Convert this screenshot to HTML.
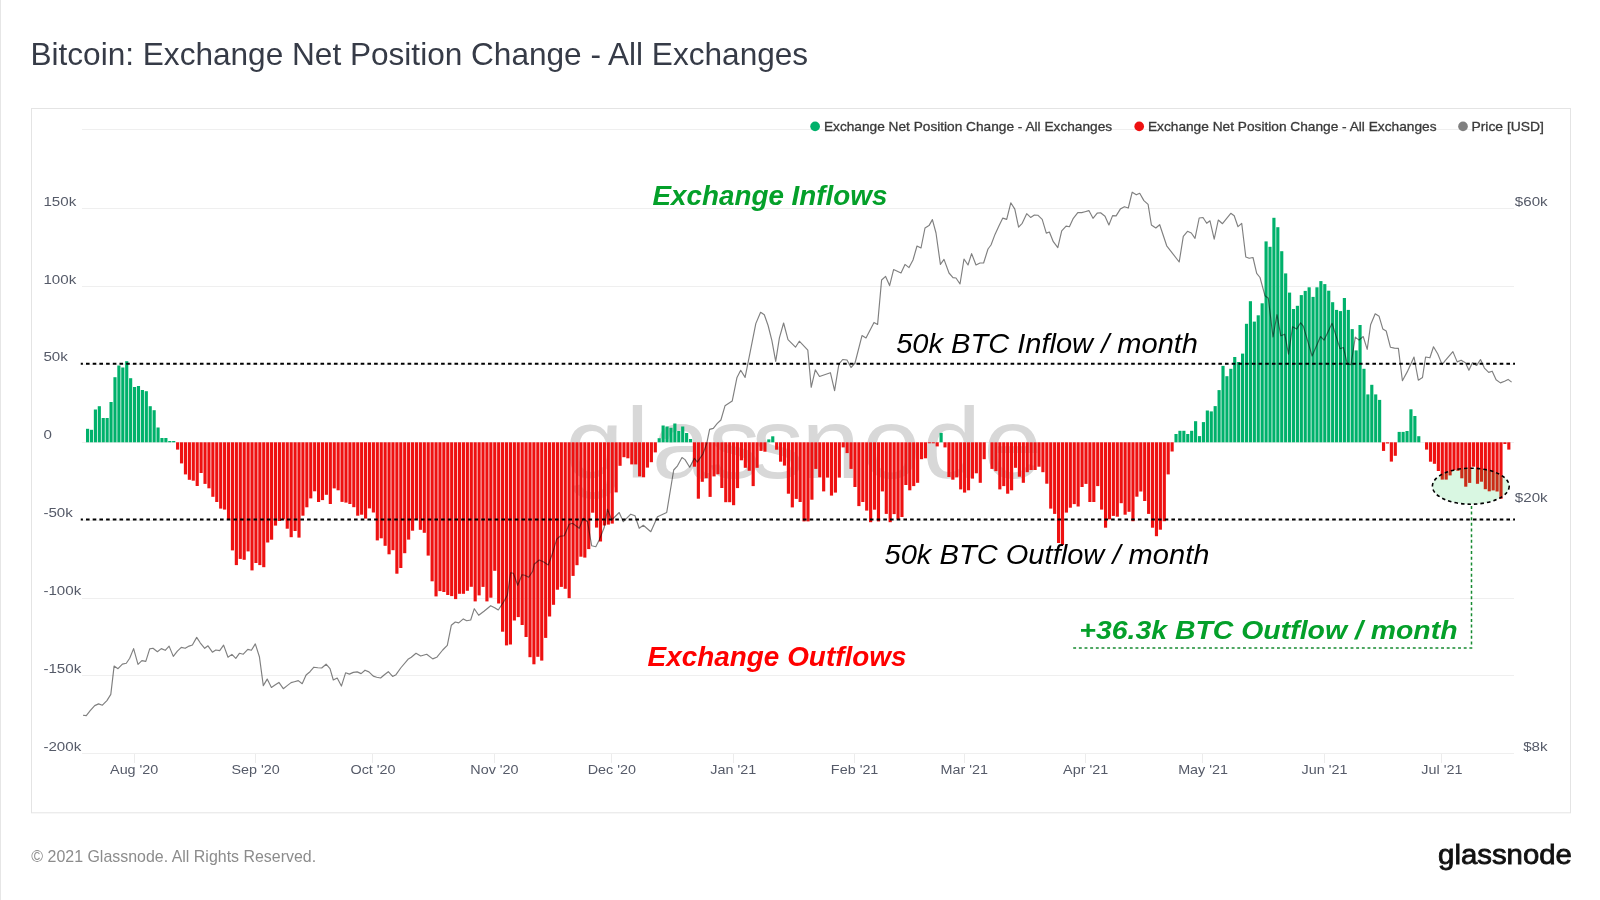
<!DOCTYPE html>
<html><head><meta charset="utf-8"><title>Bitcoin: Exchange Net Position Change - All Exchanges</title>
<style>
html,body{margin:0;padding:0;background:#fff;width:1600px;height:900px;overflow:hidden}
#edge{position:absolute;left:0;top:0;width:1px;height:900px;background:#e6e6e6}
svg{position:absolute;left:0;top:0;display:block;will-change:transform}
</style></head><body>
<svg width="1600" height="900" viewBox="0 0 1600 900"><rect x="31.5" y="108.5" width="1539" height="704.3" fill="#fff" stroke="#e4e4e4" stroke-width="1"/><line x1="82" y1="129.5" x2="1514" y2="129.5" stroke="#efefef" stroke-width="1"/><line x1="82" y1="208.5" x2="1514" y2="208.5" stroke="#efefef" stroke-width="1"/><line x1="82" y1="286.5" x2="1514" y2="286.5" stroke="#efefef" stroke-width="1"/><line x1="82" y1="364.5" x2="1514" y2="364.5" stroke="#efefef" stroke-width="1"/><line x1="82" y1="442.5" x2="1514" y2="442.5" stroke="#efefef" stroke-width="1"/><line x1="82" y1="520.5" x2="1514" y2="520.5" stroke="#efefef" stroke-width="1"/><line x1="82" y1="598.5" x2="1514" y2="598.5" stroke="#efefef" stroke-width="1"/><line x1="82" y1="675.5" x2="1514" y2="675.5" stroke="#efefef" stroke-width="1"/><line x1="82" y1="753.5" x2="1514" y2="753.5" stroke="#efefef" stroke-width="1"/><line x1="134.5" y1="754" x2="134.5" y2="763" stroke="#ececec" stroke-width="1"/><line x1="255.5" y1="754" x2="255.5" y2="763" stroke="#ececec" stroke-width="1"/><line x1="372.5" y1="754" x2="372.5" y2="763" stroke="#ececec" stroke-width="1"/><line x1="494.5" y1="754" x2="494.5" y2="763" stroke="#ececec" stroke-width="1"/><line x1="611.5" y1="754" x2="611.5" y2="763" stroke="#ececec" stroke-width="1"/><line x1="733.5" y1="754" x2="733.5" y2="763" stroke="#ececec" stroke-width="1"/><line x1="854.5" y1="754" x2="854.5" y2="763" stroke="#ececec" stroke-width="1"/><line x1="964.5" y1="754" x2="964.5" y2="763" stroke="#ececec" stroke-width="1"/><line x1="1085.5" y1="754" x2="1085.5" y2="763" stroke="#ececec" stroke-width="1"/><line x1="1202.5" y1="754" x2="1202.5" y2="763" stroke="#ececec" stroke-width="1"/><line x1="1324.5" y1="754" x2="1324.5" y2="763" stroke="#ececec" stroke-width="1"/><line x1="1441.5" y1="754" x2="1441.5" y2="763" stroke="#ececec" stroke-width="1"/><text transform="translate(0 477.5) scale(1.05 1)" x="538.06 595.90 620.88 674.30 715.73 763.28 820.87 878.54 936.59" y="0" font-family="Liberation Sans, Arial, sans-serif" font-size="100" fill="#d8d8d8">glassnode</text><g fill="#00b16b"><rect x="86.00" y="428.8" width="3.15" height="13.5"/><rect x="89.92" y="429.8" width="3.15" height="12.5"/><rect x="93.83" y="409.5" width="3.15" height="32.8"/><rect x="97.75" y="406.2" width="3.15" height="36.1"/><rect x="101.66" y="418.0" width="3.15" height="24.3"/><rect x="105.58" y="418.0" width="3.15" height="24.3"/><rect x="109.49" y="402.0" width="3.15" height="40.3"/><rect x="113.41" y="377.2" width="3.15" height="65.1"/><rect x="117.32" y="365.5" width="3.15" height="76.8"/><rect x="121.24" y="367.5" width="3.15" height="74.8"/><rect x="125.15" y="361.2" width="3.15" height="81.1"/><rect x="129.07" y="378.2" width="3.15" height="64.1"/><rect x="132.98" y="387.0" width="3.15" height="55.3"/><rect x="136.90" y="386.0" width="3.15" height="56.3"/><rect x="140.81" y="390.0" width="3.15" height="52.3"/><rect x="144.73" y="391.2" width="3.15" height="51.1"/><rect x="148.64" y="406.2" width="3.15" height="36.1"/><rect x="152.56" y="410.2" width="3.15" height="32.1"/><rect x="156.48" y="427.5" width="3.15" height="14.8"/><rect x="160.39" y="438.0" width="3.15" height="4.3"/><rect x="164.31" y="438.0" width="3.15" height="4.3"/><rect x="168.22" y="441.0" width="3.15" height="1.3"/><rect x="172.14" y="441.0" width="3.15" height="1.3"/><rect x="657.63" y="438.2" width="3.15" height="4.1"/><rect x="661.55" y="425.5" width="3.15" height="16.8"/><rect x="665.46" y="426.5" width="3.15" height="15.8"/><rect x="669.38" y="427.8" width="3.15" height="14.6"/><rect x="673.29" y="423.5" width="3.15" height="18.8"/><rect x="677.21" y="431.0" width="3.15" height="11.3"/><rect x="681.13" y="426.5" width="3.15" height="15.8"/><rect x="685.04" y="433.0" width="3.15" height="9.3"/><rect x="688.96" y="439.0" width="3.15" height="3.3"/><rect x="767.26" y="439.4" width="3.15" height="2.9"/><rect x="771.18" y="436.3" width="3.15" height="6.0"/><rect x="939.54" y="432.9" width="3.15" height="9.4"/><rect x="1174.45" y="434.0" width="3.15" height="8.3"/><rect x="1178.37" y="430.8" width="3.15" height="11.5"/><rect x="1182.28" y="430.8" width="3.15" height="11.5"/><rect x="1186.20" y="434.0" width="3.15" height="8.3"/><rect x="1190.11" y="430.8" width="3.15" height="11.5"/><rect x="1194.03" y="421.2" width="3.15" height="21.1"/><rect x="1197.95" y="436.1" width="3.15" height="6.2"/><rect x="1201.86" y="422.1" width="3.15" height="20.2"/><rect x="1205.78" y="410.5" width="3.15" height="31.8"/><rect x="1209.69" y="411.4" width="3.15" height="30.9"/><rect x="1213.61" y="406.1" width="3.15" height="36.2"/><rect x="1217.52" y="390.1" width="3.15" height="52.2"/><rect x="1221.44" y="365.9" width="3.15" height="76.4"/><rect x="1225.35" y="376.2" width="3.15" height="66.1"/><rect x="1229.27" y="368.8" width="3.15" height="73.5"/><rect x="1233.18" y="357.0" width="3.15" height="85.3"/><rect x="1237.10" y="362.0" width="3.15" height="80.3"/><rect x="1241.01" y="353.6" width="3.15" height="88.7"/><rect x="1244.93" y="323.8" width="3.15" height="118.5"/><rect x="1248.84" y="301.2" width="3.15" height="141.1"/><rect x="1252.76" y="321.6" width="3.15" height="120.7"/><rect x="1256.67" y="315.3" width="3.15" height="127.0"/><rect x="1260.59" y="303.3" width="3.15" height="139.0"/><rect x="1264.51" y="241.4" width="3.15" height="200.9"/><rect x="1268.42" y="246.8" width="3.15" height="195.5"/><rect x="1272.34" y="217.8" width="3.15" height="224.5"/><rect x="1276.25" y="227.2" width="3.15" height="215.1"/><rect x="1280.17" y="251.2" width="3.15" height="191.1"/><rect x="1284.08" y="273.4" width="3.15" height="168.9"/><rect x="1288.00" y="292.6" width="3.15" height="149.7"/><rect x="1291.91" y="309.0" width="3.15" height="133.3"/><rect x="1295.83" y="305.8" width="3.15" height="136.5"/><rect x="1299.74" y="295.1" width="3.15" height="147.2"/><rect x="1303.66" y="290.9" width="3.15" height="151.4"/><rect x="1307.57" y="287.3" width="3.15" height="155.0"/><rect x="1311.49" y="296.9" width="3.15" height="145.4"/><rect x="1315.40" y="287.3" width="3.15" height="155.0"/><rect x="1319.32" y="281.1" width="3.15" height="161.2"/><rect x="1323.23" y="284.1" width="3.15" height="158.2"/><rect x="1327.15" y="290.7" width="3.15" height="151.6"/><rect x="1331.07" y="302.2" width="3.15" height="140.1"/><rect x="1334.98" y="309.9" width="3.15" height="132.4"/><rect x="1338.90" y="311.1" width="3.15" height="131.2"/><rect x="1342.81" y="298.0" width="3.15" height="144.3"/><rect x="1346.73" y="309.9" width="3.15" height="132.4"/><rect x="1350.64" y="329.1" width="3.15" height="113.2"/><rect x="1354.56" y="350.4" width="3.15" height="91.9"/><rect x="1358.47" y="325.0" width="3.15" height="117.3"/><rect x="1362.39" y="368.8" width="3.15" height="73.5"/><rect x="1366.30" y="394.4" width="3.15" height="47.9"/><rect x="1370.22" y="384.8" width="3.15" height="57.5"/><rect x="1374.13" y="394.4" width="3.15" height="47.9"/><rect x="1378.05" y="399.9" width="3.15" height="42.4"/><rect x="1397.63" y="431.9" width="3.15" height="10.4"/><rect x="1401.54" y="431.9" width="3.15" height="10.4"/><rect x="1405.46" y="431.0" width="3.15" height="11.3"/><rect x="1409.37" y="409.3" width="3.15" height="33.0"/><rect x="1413.29" y="416.0" width="3.15" height="26.3"/><rect x="1417.20" y="436.2" width="3.15" height="6.1"/></g><g fill="#ee1111"><rect x="176.05" y="442.3" width="3.15" height="7.3"/><rect x="179.97" y="442.3" width="3.15" height="21.1"/><rect x="183.88" y="442.3" width="3.15" height="32.1"/><rect x="187.80" y="442.3" width="3.15" height="37.5"/><rect x="191.71" y="442.3" width="3.15" height="38.4"/><rect x="195.63" y="442.3" width="3.15" height="43.7"/><rect x="199.54" y="442.3" width="3.15" height="30.7"/><rect x="203.46" y="442.3" width="3.15" height="41.6"/><rect x="207.37" y="442.3" width="3.15" height="46.0"/><rect x="211.29" y="442.3" width="3.15" height="54.5"/><rect x="215.20" y="442.3" width="3.15" height="59.7"/><rect x="219.12" y="442.3" width="3.15" height="66.3"/><rect x="223.04" y="442.3" width="3.15" height="67.3"/><rect x="226.95" y="442.3" width="3.15" height="77.5"/><rect x="230.87" y="442.3" width="3.15" height="108.1"/><rect x="234.78" y="442.3" width="3.15" height="122.8"/><rect x="238.70" y="442.3" width="3.15" height="116.6"/><rect x="242.61" y="442.3" width="3.15" height="117.5"/><rect x="246.53" y="442.3" width="3.15" height="109.1"/><rect x="250.44" y="442.3" width="3.15" height="128.1"/><rect x="254.36" y="442.3" width="3.15" height="120.7"/><rect x="258.27" y="442.3" width="3.15" height="122.8"/><rect x="262.19" y="442.3" width="3.15" height="124.9"/><rect x="266.10" y="442.3" width="3.15" height="100.2"/><rect x="270.02" y="442.3" width="3.15" height="97.4"/><rect x="273.93" y="442.3" width="3.15" height="83.3"/><rect x="277.85" y="442.3" width="3.15" height="78.7"/><rect x="281.76" y="442.3" width="3.15" height="77.1"/><rect x="285.68" y="442.3" width="3.15" height="86.4"/><rect x="289.60" y="442.3" width="3.15" height="94.9"/><rect x="293.51" y="442.3" width="3.15" height="88.7"/><rect x="297.43" y="442.3" width="3.15" height="95.3"/><rect x="301.34" y="442.3" width="3.15" height="73.4"/><rect x="305.26" y="442.3" width="3.15" height="65.0"/><rect x="309.17" y="442.3" width="3.15" height="56.1"/><rect x="313.09" y="442.3" width="3.15" height="49.0"/><rect x="317.00" y="442.3" width="3.15" height="59.7"/><rect x="320.92" y="442.3" width="3.15" height="57.8"/><rect x="324.83" y="442.3" width="3.15" height="52.5"/><rect x="328.75" y="442.3" width="3.15" height="61.7"/><rect x="332.66" y="442.3" width="3.15" height="46.1"/><rect x="336.58" y="442.3" width="3.15" height="48.0"/><rect x="340.49" y="442.3" width="3.15" height="59.6"/><rect x="344.41" y="442.3" width="3.15" height="60.3"/><rect x="348.33" y="442.3" width="3.15" height="61.7"/><rect x="352.24" y="442.3" width="3.15" height="64.9"/><rect x="356.16" y="442.3" width="3.15" height="73.4"/><rect x="360.07" y="442.3" width="3.15" height="72.4"/><rect x="363.99" y="442.3" width="3.15" height="76.3"/><rect x="367.90" y="442.3" width="3.15" height="66.1"/><rect x="371.82" y="442.3" width="3.15" height="70.2"/><rect x="375.73" y="442.3" width="3.15" height="98.1"/><rect x="379.65" y="442.3" width="3.15" height="96.0"/><rect x="383.56" y="442.3" width="3.15" height="103.5"/><rect x="387.48" y="442.3" width="3.15" height="112.0"/><rect x="391.39" y="442.3" width="3.15" height="107.9"/><rect x="395.31" y="442.3" width="3.15" height="131.4"/><rect x="399.22" y="442.3" width="3.15" height="125.7"/><rect x="403.14" y="442.3" width="3.15" height="110.9"/><rect x="407.05" y="442.3" width="3.15" height="97.3"/><rect x="410.97" y="442.3" width="3.15" height="88.4"/><rect x="414.89" y="442.3" width="3.15" height="76.8"/><rect x="418.80" y="442.3" width="3.15" height="87.5"/><rect x="422.72" y="442.3" width="3.15" height="90.5"/><rect x="426.63" y="442.3" width="3.15" height="113.3"/><rect x="430.55" y="442.3" width="3.15" height="139.0"/><rect x="434.46" y="442.3" width="3.15" height="154.1"/><rect x="438.38" y="442.3" width="3.15" height="148.8"/><rect x="442.29" y="442.3" width="3.15" height="149.7"/><rect x="446.21" y="442.3" width="3.15" height="152.7"/><rect x="450.12" y="442.3" width="3.15" height="153.8"/><rect x="454.04" y="442.3" width="3.15" height="156.8"/><rect x="457.95" y="442.3" width="3.15" height="151.5"/><rect x="461.87" y="442.3" width="3.15" height="151.5"/><rect x="465.78" y="442.3" width="3.15" height="148.5"/><rect x="469.70" y="442.3" width="3.15" height="144.5"/><rect x="473.61" y="442.3" width="3.15" height="159.1"/><rect x="477.53" y="442.3" width="3.15" height="153.1"/><rect x="481.45" y="442.3" width="3.15" height="144.6"/><rect x="485.36" y="442.3" width="3.15" height="159.1"/><rect x="489.28" y="442.3" width="3.15" height="155.4"/><rect x="493.19" y="442.3" width="3.15" height="128.5"/><rect x="497.11" y="442.3" width="3.15" height="161.2"/><rect x="501.02" y="442.3" width="3.15" height="189.4"/><rect x="504.94" y="442.3" width="3.15" height="203.1"/><rect x="508.85" y="442.3" width="3.15" height="202.2"/><rect x="512.77" y="442.3" width="3.15" height="178.2"/><rect x="516.68" y="442.3" width="3.15" height="174.8"/><rect x="520.60" y="442.3" width="3.15" height="182.7"/><rect x="524.51" y="442.3" width="3.15" height="194.7"/><rect x="528.43" y="442.3" width="3.15" height="214.9"/><rect x="532.34" y="442.3" width="3.15" height="222.0"/><rect x="536.26" y="442.3" width="3.15" height="214.5"/><rect x="540.17" y="442.3" width="3.15" height="218.3"/><rect x="544.09" y="442.3" width="3.15" height="195.6"/><rect x="548.01" y="442.3" width="3.15" height="174.2"/><rect x="551.92" y="442.3" width="3.15" height="162.5"/><rect x="555.84" y="442.3" width="3.15" height="147.4"/><rect x="559.75" y="442.3" width="3.15" height="144.6"/><rect x="563.67" y="442.3" width="3.15" height="146.5"/><rect x="567.58" y="442.3" width="3.15" height="155.9"/><rect x="571.50" y="442.3" width="3.15" height="133.6"/><rect x="575.41" y="442.3" width="3.15" height="122.9"/><rect x="579.33" y="442.3" width="3.15" height="114.4"/><rect x="583.24" y="442.3" width="3.15" height="115.3"/><rect x="587.16" y="442.3" width="3.15" height="106.8"/><rect x="591.07" y="442.3" width="3.15" height="70.4"/><rect x="594.99" y="442.3" width="3.15" height="85.3"/><rect x="598.90" y="442.3" width="3.15" height="99.2"/><rect x="602.82" y="442.3" width="3.15" height="83.2"/><rect x="606.73" y="442.3" width="3.15" height="82.3"/><rect x="610.65" y="442.3" width="3.15" height="81.3"/><rect x="614.57" y="442.3" width="3.15" height="50.1"/><rect x="618.48" y="442.3" width="3.15" height="23.5"/><rect x="622.40" y="442.3" width="3.15" height="14.9"/><rect x="626.31" y="442.3" width="3.15" height="16.0"/><rect x="630.23" y="442.3" width="3.15" height="22.1"/><rect x="634.14" y="442.3" width="3.15" height="22.1"/><rect x="638.06" y="442.3" width="3.15" height="34.1"/><rect x="641.97" y="442.3" width="3.15" height="35.0"/><rect x="645.89" y="442.3" width="3.15" height="25.3"/><rect x="649.80" y="442.3" width="3.15" height="19.9"/><rect x="653.72" y="442.3" width="3.15" height="10.1"/><rect x="692.87" y="442.3" width="3.15" height="24.4"/><rect x="696.79" y="442.3" width="3.15" height="56.4"/><rect x="700.70" y="442.3" width="3.15" height="39.5"/><rect x="704.62" y="442.3" width="3.15" height="35.9"/><rect x="708.53" y="442.3" width="3.15" height="54.6"/><rect x="712.45" y="442.3" width="3.15" height="34.1"/><rect x="716.36" y="442.3" width="3.15" height="32.0"/><rect x="720.28" y="442.3" width="3.15" height="45.7"/><rect x="724.19" y="442.3" width="3.15" height="59.9"/><rect x="728.11" y="442.3" width="3.15" height="59.9"/><rect x="732.02" y="442.3" width="3.15" height="62.9"/><rect x="735.94" y="442.3" width="3.15" height="45.8"/><rect x="739.86" y="442.3" width="3.15" height="18.0"/><rect x="743.77" y="442.3" width="3.15" height="25.5"/><rect x="747.69" y="442.3" width="3.15" height="28.5"/><rect x="751.60" y="442.3" width="3.15" height="43.8"/><rect x="755.52" y="442.3" width="3.15" height="25.5"/><rect x="759.43" y="442.3" width="3.15" height="8.6"/><rect x="763.35" y="442.3" width="3.15" height="9.4"/><rect x="775.09" y="442.3" width="3.15" height="7.4"/><rect x="779.01" y="442.3" width="3.15" height="19.4"/><rect x="782.92" y="442.3" width="3.15" height="23.3"/><rect x="786.84" y="442.3" width="3.15" height="51.4"/><rect x="790.75" y="442.3" width="3.15" height="65.1"/><rect x="794.67" y="442.3" width="3.15" height="56.6"/><rect x="798.58" y="442.3" width="3.15" height="59.7"/><rect x="802.50" y="442.3" width="3.15" height="79.1"/><rect x="806.42" y="442.3" width="3.15" height="79.1"/><rect x="810.33" y="442.3" width="3.15" height="57.4"/><rect x="814.25" y="442.3" width="3.15" height="26.6"/><rect x="818.16" y="442.3" width="3.15" height="35.1"/><rect x="822.08" y="442.3" width="3.15" height="49.1"/><rect x="825.99" y="442.3" width="3.15" height="35.3"/><rect x="829.91" y="442.3" width="3.15" height="53.3"/><rect x="833.82" y="442.3" width="3.15" height="50.3"/><rect x="837.74" y="442.3" width="3.15" height="35.3"/><rect x="841.65" y="442.3" width="3.15" height="5.1"/><rect x="845.57" y="442.3" width="3.15" height="10.8"/><rect x="849.48" y="442.3" width="3.15" height="26.6"/><rect x="853.40" y="442.3" width="3.15" height="44.7"/><rect x="857.31" y="442.3" width="3.15" height="63.8"/><rect x="861.23" y="442.3" width="3.15" height="59.7"/><rect x="865.14" y="442.3" width="3.15" height="68.3"/><rect x="869.06" y="442.3" width="3.15" height="79.9"/><rect x="872.98" y="442.3" width="3.15" height="67.4"/><rect x="876.89" y="442.3" width="3.15" height="79.1"/><rect x="880.81" y="442.3" width="3.15" height="49.1"/><rect x="884.72" y="442.3" width="3.15" height="71.6"/><rect x="888.64" y="442.3" width="3.15" height="79.9"/><rect x="892.55" y="442.3" width="3.15" height="71.8"/><rect x="896.47" y="442.3" width="3.15" height="77.1"/><rect x="900.38" y="442.3" width="3.15" height="74.7"/><rect x="904.30" y="442.3" width="3.15" height="42.7"/><rect x="908.21" y="442.3" width="3.15" height="48.0"/><rect x="912.13" y="442.3" width="3.15" height="43.8"/><rect x="916.04" y="442.3" width="3.15" height="40.5"/><rect x="919.96" y="442.3" width="3.15" height="16.9"/><rect x="923.87" y="442.3" width="3.15" height="16.0"/><rect x="927.79" y="442.3" width="3.15" height="1.0"/><rect x="931.70" y="442.3" width="3.15" height="1.0"/><rect x="935.62" y="442.3" width="3.15" height="4.1"/><rect x="943.45" y="442.3" width="3.15" height="5.1"/><rect x="947.37" y="442.3" width="3.15" height="34.7"/><rect x="951.28" y="442.3" width="3.15" height="37.4"/><rect x="955.20" y="442.3" width="3.15" height="35.1"/><rect x="959.11" y="442.3" width="3.15" height="47.1"/><rect x="963.03" y="442.3" width="3.15" height="50.3"/><rect x="966.94" y="442.3" width="3.15" height="48.0"/><rect x="970.86" y="442.3" width="3.15" height="36.3"/><rect x="974.77" y="442.3" width="3.15" height="31.0"/><rect x="978.69" y="442.3" width="3.15" height="40.5"/><rect x="982.60" y="442.3" width="3.15" height="16.9"/><rect x="990.43" y="442.3" width="3.15" height="26.6"/><rect x="994.35" y="442.3" width="3.15" height="28.8"/><rect x="998.26" y="442.3" width="3.15" height="47.1"/><rect x="1002.18" y="442.3" width="3.15" height="43.8"/><rect x="1006.10" y="442.3" width="3.15" height="51.4"/><rect x="1010.01" y="442.3" width="3.15" height="48.0"/><rect x="1013.93" y="442.3" width="3.15" height="25.5"/><rect x="1017.84" y="442.3" width="3.15" height="34.4"/><rect x="1021.76" y="442.3" width="3.15" height="40.5"/><rect x="1025.67" y="442.3" width="3.15" height="29.9"/><rect x="1029.59" y="442.3" width="3.15" height="27.7"/><rect x="1033.50" y="442.3" width="3.15" height="27.7"/><rect x="1037.42" y="442.3" width="3.15" height="24.4"/><rect x="1041.33" y="442.3" width="3.15" height="29.9"/><rect x="1045.25" y="442.3" width="3.15" height="41.4"/><rect x="1049.16" y="442.3" width="3.15" height="66.3"/><rect x="1053.08" y="442.3" width="3.15" height="71.6"/><rect x="1056.99" y="442.3" width="3.15" height="100.7"/><rect x="1060.91" y="442.3" width="3.15" height="102.7"/><rect x="1064.82" y="442.3" width="3.15" height="70.3"/><rect x="1068.74" y="442.3" width="3.15" height="65.4"/><rect x="1072.66" y="442.3" width="3.15" height="61.8"/><rect x="1076.57" y="442.3" width="3.15" height="64.2"/><rect x="1080.49" y="442.3" width="3.15" height="44.7"/><rect x="1084.40" y="442.3" width="3.15" height="41.6"/><rect x="1088.32" y="442.3" width="3.15" height="59.7"/><rect x="1092.23" y="442.3" width="3.15" height="59.7"/><rect x="1096.15" y="442.3" width="3.15" height="43.8"/><rect x="1100.06" y="442.3" width="3.15" height="67.3"/><rect x="1103.98" y="442.3" width="3.15" height="85.4"/><rect x="1107.89" y="442.3" width="3.15" height="77.1"/><rect x="1111.81" y="442.3" width="3.15" height="73.6"/><rect x="1115.72" y="442.3" width="3.15" height="74.4"/><rect x="1119.64" y="442.3" width="3.15" height="60.9"/><rect x="1123.55" y="442.3" width="3.15" height="72.4"/><rect x="1127.47" y="442.3" width="3.15" height="69.5"/><rect x="1131.39" y="442.3" width="3.15" height="78.9"/><rect x="1135.30" y="442.3" width="3.15" height="54.4"/><rect x="1139.22" y="442.3" width="3.15" height="49.2"/><rect x="1143.13" y="442.3" width="3.15" height="58.7"/><rect x="1147.05" y="442.3" width="3.15" height="71.6"/><rect x="1150.96" y="442.3" width="3.15" height="85.4"/><rect x="1154.88" y="442.3" width="3.15" height="93.9"/><rect x="1158.79" y="442.3" width="3.15" height="87.4"/><rect x="1162.71" y="442.3" width="3.15" height="78.9"/><rect x="1166.62" y="442.3" width="3.15" height="32.1"/><rect x="1170.54" y="442.3" width="3.15" height="9.2"/><rect x="1381.96" y="442.3" width="3.15" height="8.6"/><rect x="1385.88" y="442.3" width="3.15" height="1.2"/><rect x="1389.79" y="442.3" width="3.15" height="19.3"/><rect x="1393.71" y="442.3" width="3.15" height="13.5"/><rect x="1425.03" y="442.3" width="3.15" height="7.3"/><rect x="1428.95" y="442.3" width="3.15" height="19.4"/><rect x="1432.86" y="442.3" width="3.15" height="21.5"/><rect x="1436.78" y="442.3" width="3.15" height="28.7"/><rect x="1440.69" y="442.3" width="3.15" height="37.3"/><rect x="1444.61" y="442.3" width="3.15" height="37.3"/><rect x="1448.52" y="442.3" width="3.15" height="33.1"/><rect x="1452.44" y="442.3" width="3.15" height="27.7"/><rect x="1456.36" y="442.3" width="3.15" height="28.5"/><rect x="1460.27" y="442.3" width="3.15" height="36.0"/><rect x="1464.19" y="442.3" width="3.15" height="44.4"/><rect x="1468.10" y="442.3" width="3.15" height="40.6"/><rect x="1472.02" y="442.3" width="3.15" height="24.4"/><rect x="1475.93" y="442.3" width="3.15" height="41.5"/><rect x="1479.85" y="442.3" width="3.15" height="39.4"/><rect x="1483.76" y="442.3" width="3.15" height="46.9"/><rect x="1487.68" y="442.3" width="3.15" height="49.0"/><rect x="1491.59" y="442.3" width="3.15" height="48.1"/><rect x="1495.51" y="442.3" width="3.15" height="49.2"/><rect x="1499.42" y="442.3" width="3.15" height="56.5"/><rect x="1503.34" y="442.3" width="3.15" height="1.7"/><rect x="1507.25" y="442.3" width="3.15" height="7.3"/></g><polyline points="83.0,715.2 86.3,715.6 90.2,710.6 94.7,705.6 98.6,703.9 102.4,705.2 106.9,700.6 110.8,694.4 114.1,666.1 118.0,668.7 122.4,664.1 126.3,663.3 129.7,658.3 133.6,648.6 138.0,664.4 141.9,660.6 145.8,661.4 149.7,648.9 153.0,648.3 157.4,651.7 161.3,648.6 165.2,650.3 169.1,646.1 173.3,656.4 177.4,651.1 181.3,647.4 185.2,648.3 189.1,646.1 192.4,645.0 196.7,637.4 200.2,642.8 204.7,648.3 208.0,645.8 212.4,652.2 215.8,650.0 219.7,650.6 223.6,645.1 228.0,657.2 231.9,654.4 235.8,658.3 239.4,653.3 243.3,654.2 247.8,649.4 251.4,650.2 255.3,643.9 259.4,656.7 263.3,685.6 267.2,679.1 271.4,687.4 275.0,685.0 278.9,682.4 283.3,688.7 287.2,685.6 291.1,682.6 294.4,681.7 298.3,680.6 302.2,683.7 306.1,675.0 310.0,671.7 313.9,667.2 317.8,667.8 321.7,668.0 326.1,664.2 330.0,668.6 333.3,680.0 337.2,678.1 341.4,686.1 345.6,672.8 349.4,674.1 353.3,672.4 357.2,671.9 361.1,673.6 365.0,670.2 368.9,671.9 373.3,676.1 376.7,677.2 380.6,678.0 384.4,674.8 388.3,671.7 392.6,676.4 396.0,674.7 400.7,668.0 408.0,659.3 411.3,657.3 416.0,653.3 420.7,656.0 426.7,654.3 432.7,658.9 436.7,657.3 442.7,650.0 447.3,645.3 451.3,625.3 455.3,622.0 458.7,622.9 463.3,618.9 466.7,620.7 470.7,620.0 474.3,608.7 478.7,615.3 484.0,611.3 490.7,605.7 494.7,607.7 498.3,610.0 504.0,601.3 507.3,595.3 510.7,572.7 513.3,573.3 517.7,585.3 522.0,574.7 524.7,575.3 528.7,577.3 532.7,571.3 534.2,564.2 539.2,560.0 543.3,561.7 548.3,565.0 552.5,553.3 556.7,539.2 560.0,536.3 564.2,535.8 569.2,524.2 572.5,523.3 579.2,528.3 583.3,518.3 587.5,521.7 591.7,545.8 595.8,546.7 599.2,540.0 604.2,527.5 607.5,509.2 611.7,520.0 619.2,512.5 623.3,521.7 630.8,514.2 635.0,515.8 639.2,528.3 643.3,525.3 650.8,531.7 657.5,516.7 666.7,512.5 673.7,470.0 677.5,465.8 682.0,457.5 685.0,459.6 689.7,467.2 694.4,458.3 697.3,462.1 702.9,454.0 706.7,443.6 709.6,429.4 713.3,428.4 717.1,423.7 720.9,420.0 725.0,405.8 732.2,401.1 737.0,377.4 740.7,370.3 745.1,377.4 750.2,351.9 755.8,323.6 760.6,312.3 764.3,314.7 768.1,325.5 771.9,340.6 775.7,361.4 779.4,337.8 783.6,323.0 788.0,339.7 795.5,347.2 799.3,341.2 807.8,350.1 811.2,387.3 815.3,369.9 819.5,376.5 830.4,372.7 834.6,390.7 838.9,364.2 842.7,359.5 847.0,360.0 851.0,367.6 855.0,363.0 862.0,335.6 866.0,338.0 874.0,322.4 877.6,324.4 881.6,280.0 885.6,276.4 889.6,285.6 893.6,269.6 901.0,273.0 905.0,264.4 909.0,267.6 913.0,260.0 917.0,246.0 921.0,248.0 925.0,228.0 929.0,225.6 932.4,219.6 936.0,233.0 940.4,264.4 944.0,259.4 949.0,273.0 953.0,277.6 956.0,278.0 960.0,284.0 964.0,259.0 968.0,265.0 971.6,253.6 976.0,265.0 980.0,263.0 983.6,263.0 988.0,249.0 991.0,245.0 995.0,234.4 998.9,226.1 1002.8,218.1 1006.7,219.4 1010.8,202.8 1014.8,209.1 1018.6,227.2 1022.2,223.3 1026.7,213.7 1030.6,217.4 1034.4,215.0 1037.8,215.2 1042.2,219.4 1046.3,233.1 1049.4,232.0 1053.3,241.7 1057.8,247.6 1061.7,230.9 1066.1,226.1 1069.4,226.7 1073.3,218.3 1077.8,212.6 1081.7,212.6 1085.0,211.7 1088.9,210.6 1093.0,218.3 1097.2,213.1 1100.6,212.8 1105.0,216.3 1108.9,225.0 1112.6,215.6 1116.1,215.9 1120.3,209.1 1124.4,206.7 1128.3,208.0 1132.2,192.2 1136.3,194.8 1139.7,193.3 1143.9,200.6 1148.1,204.4 1151.4,225.0 1155.8,228.0 1159.7,224.7 1166.7,245.8 1179.2,262.0 1183.3,236.3 1187.5,231.3 1191.3,233.0 1195.0,238.3 1199.2,218.0 1203.0,217.5 1206.7,223.3 1210.0,220.8 1214.2,239.2 1218.3,220.0 1222.5,223.7 1226.7,218.3 1230.8,213.3 1234.2,215.8 1238.0,226.7 1241.7,223.3 1245.8,257.0 1249.2,258.3 1253.0,257.5 1256.7,273.3 1260.0,277.5 1265.0,295.8 1268.3,298.3 1273.0,337.0 1277.0,314.7 1280.8,335.8 1284.7,334.2 1288.5,354.2 1292.6,326.7 1296.6,329.1 1300.6,322.8 1303.3,326.1 1312.1,356.0 1320.5,336.5 1324.1,340.1 1332.1,323.3 1340.0,348.7 1343.4,347.5 1347.3,364.0 1351.0,364.6 1355.3,337.1 1359.0,340.1 1363.2,336.5 1367.2,349.3 1370.6,324.8 1375.2,313.8 1379.1,316.3 1382.8,328.9 1386.2,331.0 1390.4,347.2 1394.4,348.1 1398.4,348.4 1402.4,380.7 1407.2,371.9 1414.0,357.0 1418.3,380.2 1422.5,377.4 1425.6,357.0 1429.9,357.8 1433.5,346.8 1437.8,354.0 1442.1,364.6 1445.2,360.7 1452.9,351.6 1457.2,361.9 1461.1,360.2 1465.4,362.7 1468.9,370.3 1472.4,362.7 1476.7,365.4 1480.5,359.5 1484.4,368.1 1488.7,372.4 1492.2,371.2 1496.1,379.8 1500.4,382.9 1504.6,381.3 1508.1,379.4 1511.6,382.1" fill="none" stroke="rgba(0,0,0,0.5)" stroke-width="1.15" stroke-linejoin="round"/><line x1="80.75" y1="363.75" x2="1515" y2="363.75" stroke="#000" stroke-width="2" stroke-dasharray="3.6 3.1" stroke-dashoffset="1.45"/><line x1="80.75" y1="519.5" x2="1515" y2="519.5" stroke="#000" stroke-width="2" stroke-dasharray="3.6 3.1" stroke-dashoffset="1.45"/><ellipse cx="1470.8" cy="486.2" rx="38.4" ry="18" fill="rgba(0,200,60,0.15)" stroke="#000" stroke-width="1.6" stroke-dasharray="3.5 3"/><line x1="1471.5" y1="644.5" x2="1471.5" y2="504.5" stroke="#168a30" stroke-width="1.5" stroke-dasharray="3 2.65"/><line x1="1472.3" y1="648" x2="1073" y2="648" stroke="#168a30" stroke-width="1.5" stroke-dasharray="2.9 2.76"/><text transform="translate(43.4 205.70) scale(1.13 1)" font-family="Liberation Sans, Arial, sans-serif" font-size="13.4" fill="#555a68">150k</text><text transform="translate(43.4 283.56) scale(1.13 1)" font-family="Liberation Sans, Arial, sans-serif" font-size="13.4" fill="#555a68">100k</text><text transform="translate(43.4 361.42) scale(1.13 1)" font-family="Liberation Sans, Arial, sans-serif" font-size="13.4" fill="#555a68">50k</text><text transform="translate(43.4 439.28) scale(1.13 1)" font-family="Liberation Sans, Arial, sans-serif" font-size="13.4" fill="#555a68">0</text><text transform="translate(43.4 517.14) scale(1.13 1)" font-family="Liberation Sans, Arial, sans-serif" font-size="13.4" fill="#555a68">-50k</text><text transform="translate(43.4 595.00) scale(1.13 1)" font-family="Liberation Sans, Arial, sans-serif" font-size="13.4" fill="#555a68">-100k</text><text transform="translate(43.4 672.86) scale(1.13 1)" font-family="Liberation Sans, Arial, sans-serif" font-size="13.4" fill="#555a68">-150k</text><text transform="translate(43.4 750.72) scale(1.13 1)" font-family="Liberation Sans, Arial, sans-serif" font-size="13.4" fill="#555a68">-200k</text><text transform="translate(1547.6 205.70) scale(1.13 1)" font-family="Liberation Sans, Arial, sans-serif" font-size="13.4" fill="#555a68" text-anchor="end">$60k</text><text transform="translate(1547.6 502.20) scale(1.13 1)" font-family="Liberation Sans, Arial, sans-serif" font-size="13.4" fill="#555a68" text-anchor="end">$20k</text><text transform="translate(1547.6 750.70) scale(1.13 1)" font-family="Liberation Sans, Arial, sans-serif" font-size="13.4" fill="#555a68" text-anchor="end">$8k</text><text transform="translate(134.20 774) scale(1.09 1)" font-family="Liberation Sans, Arial, sans-serif" font-size="13.2" fill="#555a68" text-anchor="middle">Aug '20</text><text transform="translate(255.57 774) scale(1.09 1)" font-family="Liberation Sans, Arial, sans-serif" font-size="13.2" fill="#555a68" text-anchor="middle">Sep '20</text><text transform="translate(373.03 774) scale(1.09 1)" font-family="Liberation Sans, Arial, sans-serif" font-size="13.2" fill="#555a68" text-anchor="middle">Oct '20</text><text transform="translate(494.41 774) scale(1.09 1)" font-family="Liberation Sans, Arial, sans-serif" font-size="13.2" fill="#555a68" text-anchor="middle">Nov '20</text><text transform="translate(611.87 774) scale(1.09 1)" font-family="Liberation Sans, Arial, sans-serif" font-size="13.2" fill="#555a68" text-anchor="middle">Dec '20</text><text transform="translate(733.24 774) scale(1.09 1)" font-family="Liberation Sans, Arial, sans-serif" font-size="13.2" fill="#555a68" text-anchor="middle">Jan '21</text><text transform="translate(854.62 774) scale(1.09 1)" font-family="Liberation Sans, Arial, sans-serif" font-size="13.2" fill="#555a68" text-anchor="middle">Feb '21</text><text transform="translate(964.24 774) scale(1.09 1)" font-family="Liberation Sans, Arial, sans-serif" font-size="13.2" fill="#555a68" text-anchor="middle">Mar '21</text><text transform="translate(1085.62 774) scale(1.09 1)" font-family="Liberation Sans, Arial, sans-serif" font-size="13.2" fill="#555a68" text-anchor="middle">Apr '21</text><text transform="translate(1203.08 774) scale(1.09 1)" font-family="Liberation Sans, Arial, sans-serif" font-size="13.2" fill="#555a68" text-anchor="middle">May '21</text><text transform="translate(1324.45 774) scale(1.09 1)" font-family="Liberation Sans, Arial, sans-serif" font-size="13.2" fill="#555a68" text-anchor="middle">Jun '21</text><text transform="translate(1441.91 774) scale(1.09 1)" font-family="Liberation Sans, Arial, sans-serif" font-size="13.2" fill="#555a68" text-anchor="middle">Jul '21</text><circle cx="815.1" cy="126.4" r="4.85" fill="#00b16b"/><circle cx="1139.2" cy="126.4" r="4.85" fill="#ee1111"/><circle cx="1463" cy="126.4" r="4.85" fill="#808080"/><text x="823.95" y="130.95" font-family="Liberation Sans, Arial, sans-serif" font-weight="normal" font-style="normal" font-size="13.01" fill="#3a3a3a" textLength="288.15" lengthAdjust="spacingAndGlyphs" stroke="#3a3a3a" stroke-width="0.3">Exchange Net Position Change - All Exchanges</text><text x="1147.95" y="130.95" font-family="Liberation Sans, Arial, sans-serif" font-weight="normal" font-style="normal" font-size="13.01" fill="#3a3a3a" textLength="288.55" lengthAdjust="spacingAndGlyphs" stroke="#3a3a3a" stroke-width="0.3">Exchange Net Position Change - All Exchanges</text><text x="1471.43" y="130.95" font-family="Liberation Sans, Arial, sans-serif" font-weight="normal" font-style="normal" font-size="13.01" fill="#3a3a3a" textLength="72.55" lengthAdjust="spacingAndGlyphs" stroke="#3a3a3a" stroke-width="0.3">Price [USD]</text><text x="30.44" y="64.65" font-family="Liberation Sans, Arial, sans-serif" font-weight="normal" font-style="normal" font-size="30.79" fill="#363b47" textLength="777.69" lengthAdjust="spacingAndGlyphs">Bitcoin: Exchange Net Position Change - All Exchanges</text><text x="652.48" y="204.5" font-family="Liberation Sans, Arial, sans-serif" font-weight="bold" font-style="italic" font-size="27.0" fill="#04a02a" textLength="234.9" lengthAdjust="spacingAndGlyphs">Exchange Inflows</text><text x="647.58" y="666.3" font-family="Liberation Sans, Arial, sans-serif" font-weight="bold" font-style="italic" font-size="26.72" fill="#ff0000" textLength="258.9" lengthAdjust="spacingAndGlyphs">Exchange Outflows</text><text x="896.2" y="352.9" font-family="Liberation Sans, Arial, sans-serif" font-weight="normal" font-style="italic" font-size="27.36" fill="#000" textLength="301.83" lengthAdjust="spacingAndGlyphs">50k BTC Inflow / month</text><text x="884.52" y="563.9" font-family="Liberation Sans, Arial, sans-serif" font-weight="normal" font-style="italic" font-size="27.99" fill="#000" textLength="324.94" lengthAdjust="spacingAndGlyphs">50k BTC Outflow / month</text><text x="1079.37" y="638.8" font-family="Liberation Sans, Arial, sans-serif" font-weight="bold" font-style="italic" font-size="26.09" fill="#04a02a" textLength="378.15" lengthAdjust="spacingAndGlyphs">+36.3k BTC Outflow / month</text><text x="31.35" y="862" font-family="Liberation Sans, Arial, sans-serif" font-weight="normal" font-style="normal" font-size="16.21" fill="#8c8c8c" textLength="284.84" lengthAdjust="spacingAndGlyphs">© 2021 Glassnode. All Rights Reserved.</text><text x="1438.07" y="864.2" font-family="Liberation Sans, Arial, sans-serif" font-weight="normal" font-style="normal" font-size="27.59" fill="#111" textLength="133.86" lengthAdjust="spacingAndGlyphs" stroke="#111" stroke-width="0.8">glassnode</text></svg>
<div id="edge"></div>
</body></html>
